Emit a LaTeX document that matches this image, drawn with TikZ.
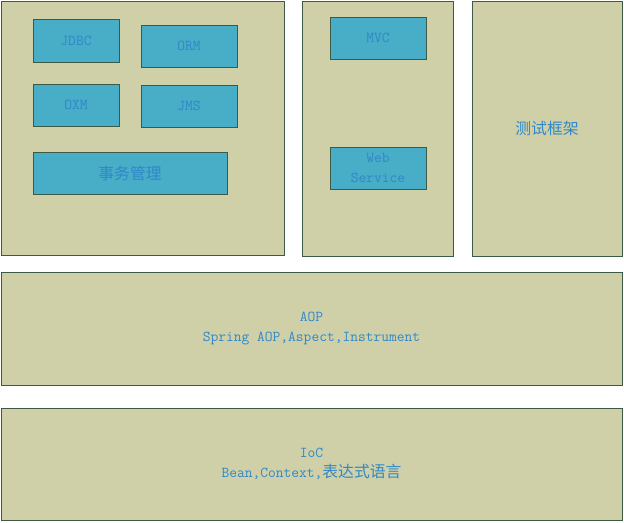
\documentclass[tikz,border=0pt]{standalone}
\usepackage{fontspec}
\newfontfamily\cjk{Noto Sans CJK SC}[Scale=1.05]
\usepackage{xcolor}
\usepackage{tikz}
\usetikzlibrary{positioning,calc}
\definecolor{panelfill}{HTML}{D0D0A8}
\definecolor{modfill}{HTML}{48ADC6}
\definecolor{edgegreen}{HTML}{3C5A46}
\definecolor{textblue}{HTML}{3088C8}
\tikzset{
  panel/.style={draw=edgegreen, fill=panelfill, line width=0.75pt, inner sep=0pt, align=center, text=textblue, font=\ttfamily\fontsize{11.3}{15}\selectfont},
  module/.style={draw=edgegreen, fill=modfill, line width=0.75pt, inner sep=0pt, align=center, text=textblue, font=\ttfamily\fontsize{11.3}{15}\selectfont, minimum width=72pt, minimum height=31.5pt}
}

\begin{document}
\begin{tikzpicture}[x=0.75pt, y=-0.75pt]
\useasboundingbox[fill=white] (0,0) rectangle (624,522);
% three upper panels
\node[panel, minimum width=212.25pt, minimum height=190.5pt] (core) at (142.5,128) {};
\node[panel, minimum width=113.25pt, minimum height=191.25pt] (web) at (377.5,128.5) {};
\node[panel, minimum width=112.5pt, minimum height=191.25pt] (test) at (547,128.5) {\cjk 测试框架};
% lower layers
\node[panel, minimum width=465.75pt, minimum height=84.75pt] (aop) at (311.5,328.5) {AOP\\Spring AOP,Aspect,Instrument};
\node[panel, minimum width=465.75pt, minimum height=84pt] (ioc) at (311.5,464) {IoC\\Bean,Context,{\cjk 表达式语言}};
% modules
\node[module, minimum width=64.5pt, minimum height=32.25pt] (jdbc) at (76,40.5) {JDBC};
\node[module] (orm) at (189,46) {ORM};
\node[module, minimum width=64.5pt] (oxm) at (76,105) {OXM};
\node[module] (jms) at (189,106) {JMS};
\node[module, minimum width=145.5pt] (tx) at (130,173) {\cjk 事务管理};
\node[module] (mvc) at (378,38) {MVC};
\node[module] (websvc) at (378,168) {Web\\Service};
\end{tikzpicture}
\end{document}
